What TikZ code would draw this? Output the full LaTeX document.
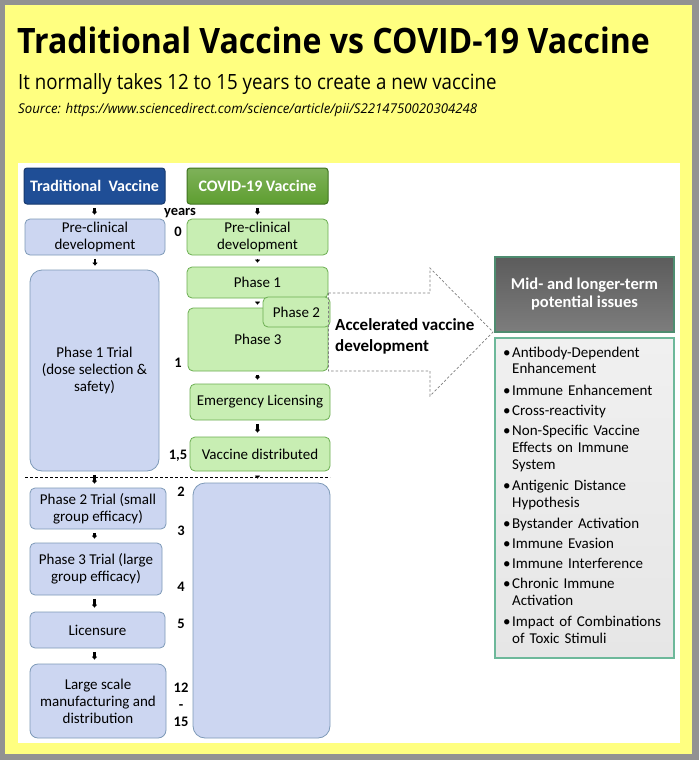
\documentclass[tikz,border=0pt]{standalone}
\usepackage{fontspec}
\setmainfont{Carlito}
\newfontfamily\headfont[FakeStretch=0.915]{Open Sans}
\newfontfamily\subfont[FakeStretch=0.89]{Open Sans}
\newfontfamily\srcfont[FakeStretch=0.98]{Open Sans}
\usepackage{tikz}
\usetikzlibrary{arrows.meta, positioning, calc, shapes.geometric}
\usepackage{xcolor}
\definecolor{pageyellow}{HTML}{FFFF80}
\definecolor{frame}{HTML}{929292}
\definecolor{tradblue}{HTML}{1F4E96}
\definecolor{tradline}{HTML}{17396E}
\definecolor{covgreen}{HTML}{5E9E30}
\definecolor{covline}{HTML}{3F7420}
\definecolor{paleblue}{HTML}{CCD6F1}
\definecolor{paleblueline}{HTML}{7E9AB8}
\definecolor{palegreen}{HTML}{C8EEB3}
\definecolor{palegreenline}{HTML}{6CAE52}
\definecolor{issuegray}{HTML}{666666}
\definecolor{issueline}{HTML}{4E8C70}
\definecolor{listgray}{HTML}{E6E6E6}
\definecolor{listline}{HTML}{6DB89A}

\tikzset{
  headbox/.style={draw, line width=1pt, rounded corners=3pt, text=white,
                  font=\fontsize{16}{18}\selectfont\bfseries,
                  minimum width=141pt, minimum height=36pt, inner sep=0pt},
  tradbox/.style={draw=paleblueline, fill=paleblue, line width=0.8pt,
                  rounded corners=5pt, align=center, inner sep=0pt,
                  font=\fontsize{15}{17}\selectfont},
  covbox/.style={draw=palegreenline, fill=palegreen, line width=0.8pt,
                 rounded corners=5pt, align=center, inner sep=0pt,
                 font=\fontsize{15}{17}\selectfont},
  yearlbl/.style={font=\fontsize{14.5}{15}\selectfont\bfseries, inner sep=0pt,
                  text height=9pt, text depth=0pt},
  downarr/.style={-{Triangle[width=5pt,length=3pt]}, line width=2.2pt,
                  shorten <=3.5pt, shorten >=4pt}
}
\newcommand{\issue}[1]{\noindent\makebox[9pt][l]{\textbullet}%
  \begin{tabular}[t]{@{}l@{}}#1\end{tabular}\par\vspace{3.2pt}}

\begin{document}
\begin{tikzpicture}[x=1pt, y=-1pt]
    % page
    \fill[frame] (0,0) rectangle (699,760);
    \fill[pageyellow] (5,5) rectangle (692,754);
    \fill[white] (18,163) rectangle (680,743);
    \useasboundingbox (0,0) rectangle (699,760);

    % heading
    \node[anchor=base west, inner sep=0pt,
          font=\headfont\fontsize{35}{40}\selectfont\bfseries]
      (title) at (17,53) {Traditional Vaccine vs COVID-19 Vaccine};
    \node[anchor=base west, inner sep=0pt,
          font=\subfont\fontsize{21}{24}\selectfont]
      (subtitle) at (18,89) {It normally takes 12 to 15 years to create a new vaccine};
    \node[anchor=base west, inner sep=0pt,
          font=\srcfont\fontsize{13.5}{16}\selectfont\itshape]
      (source) at (18,113) {Source: https://www.sciencedirect.com/science/article/pii/S2214750020304248};

    % traditional column
    \node[headbox, fill=tradblue, draw=tradline] (trhead) at (94.5,186) {Traditional\ \ Vaccine};
    \node[tradbox, minimum width=140pt, minimum height=36pt]
      (trpre) at (95,237) {Pre-clinical\\development};
    \node[tradbox, rounded corners=12pt, minimum width=129pt, minimum height=201pt]
      (trphaseone) at (94.5,370.5) {Phase 1 Trial\\(dose selection \&\\safety)};
    \node[tradbox, minimum width=136pt, minimum height=41pt]
      (trphasetwo) at (98,508.5) {Phase 2 Trial (small\\group efficacy)};
    \node[tradbox, minimum width=132pt, minimum height=52pt]
      (trphasethree) at (96,569) {Phase 3 Trial (large\\group efficacy)};
    \node[tradbox, minimum width=135pt, minimum height=36pt]
      (trlicense) at (97.5,630) {Licensure};
    \node[tradbox, rounded corners=8pt, minimum width=136pt, minimum height=74pt]
      (trmanufacture) at (98,701) {Large scale\\manufacturing and\\distribution};

    % covid column
    \node[headbox, top color=covgreen!80!white, bottom color=covgreen, draw=covline]
      (cvhead) at (257.5,186) {COVID-19 Vaccine};
    \node[covbox, minimum width=141pt, minimum height=36pt]
      (cvpre) at (257.5,237) {Pre-clinical\\development};
    \node[covbox, minimum width=141pt, minimum height=31pt]
      (cvphaseone) at (257.5,282.5) {Phase 1};
    \node[covbox, minimum width=140pt, minimum height=63pt]
      (cvphasethree) at (258,339.5) {Phase 3};
    \node[covbox, minimum width=67pt, minimum height=30pt]
      (cvphasetwo) at (296.5,312) {Phase 2};
    \node[covbox, minimum width=140pt, minimum height=36pt]
      (cvemergency) at (260,402) {Emergency Licensing};
    \node[covbox, minimum width=140pt, minimum height=34pt]
      (cvdistrib) at (260,454) {Vaccine distributed};
    \node[tradbox, rounded corners=12pt, minimum width=137pt, minimum height=255pt]
      (cvrest) at (261.5,610.5) {};

    % years
    \node[yearlbl] (yrs) at (180,211) {years};
    \node[yearlbl] (y0) at (178,232) {0};
    \node[yearlbl] (y1) at (178,363) {1};
    \node[yearlbl] (y15) at (178,455) {1,5};
    \node[yearlbl] (y2) at (181,492) {2};
    \node[yearlbl] (y3) at (181,531) {3};
    \node[yearlbl] (y4) at (181,587) {4};
    \node[yearlbl] (y5) at (181,624) {5};
    \node[yearlbl] (y12) at (181,688) {12};
    \node[yearlbl] (ydash) at (181,705) {-};
    \node[yearlbl] (y15b) at (181,722) {15};

    \draw[dashed, line width=0.8pt, dash pattern=on 3pt off 2pt]
      (25,477) -- (330,477);

    % steps
    \draw[downarr] (trhead.south) -- (trhead.south |- trpre.north);
    \draw[downarr] (trpre.south) -- (trpre.south |- trphaseone.north);
    \draw[downarr] (trphaseone.south) -- (trphaseone.south |- trphasetwo.north);
    \draw[downarr] (trphasetwo.south -| trphaseone.south) -- (trphaseone.south |- trphasethree.north);
    \draw[downarr] (trphasethree.south -| trphaseone.south) -- (trphaseone.south |- trlicense.north);
    \draw[downarr] (trlicense.south -| trphaseone.south) -- (trphaseone.south |- trmanufacture.north);
    \draw[downarr] (cvhead.south) -- (cvhead.south |- cvpre.north);
    \draw[downarr, line width=1.6pt] (cvpre.south) -- (cvpre.south |- cvphaseone.north);
    \draw[downarr, line width=1.6pt, shorten >=3pt] (cvphaseone.south) -- (cvphaseone.south |- cvphasethree.north);
    \draw[downarr] (cvphasethree.south -| cvhead.south) -- (cvhead.south |- cvemergency.north);
    \draw[downarr] (cvemergency.south -| cvhead.south) -- (cvhead.south |- cvdistrib.north);
    \draw[downarr, line width=1.4pt, shorten <=6pt] (cvdistrib.south -| cvhead.south) -- (cvhead.south |- cvrest.north);

    % accelerated arrow
    \draw[gray, dashed, line width=0.7pt, dash pattern=on 2.5pt off 2pt]
      (cvphasethree.east |- 0,293) -- (430,293) -- (430,268) -- (493,332)
      -- (430,396) -- (430,371) -- (cvphasethree.east |- 0,371) -- cycle;
    \node[anchor=west, align=left, inner sep=0pt,
          font=\fontsize{17}{21}\selectfont\bfseries]
      (accel) at (335,336) {Accelerated vaccine\\development};

    % issues
    \node[draw=issueline, line width=1.2pt, top color=issuegray!90!black,
          bottom color=issuegray!85!white, minimum width=179pt, minimum height=75pt,
          text=white, align=center, inner sep=0pt,
          font=\fontsize{16.5}{18}\selectfont\bfseries]
      (issues) at (584.5,294.5) {Mid- and longer-term\\potential issues};
    \node[draw=listline, line width=1.2pt, top color=listgray!60!white,
          bottom color=listgray, minimum width=179pt, minimum height=320pt]
      (issuelist) at (584.5,498) {};
    \node[anchor=north west, inner sep=0pt, text width=168pt, align=left,
          font=\fontsize{15}{16.9}\selectfont]
      (issuetext) at (503,345) {%
        \issue{Antibody-Dependent\\Enhancement}
        \issue{Immune Enhancement}
        \issue{Cross-reactivity}
        \issue{Non-Specific Vaccine\\Effects on Immune\\System}
        \issue{Antigenic Distance\\Hypothesis}
        \issue{Bystander Activation}
        \issue{Immune Evasion}
        \issue{Immune Interference}
        \issue{Chronic Immune\\Activation}
        \issue{Impact of Combinations\\of Toxic Stimuli}};
  \end{tikzpicture}
\end{document}
